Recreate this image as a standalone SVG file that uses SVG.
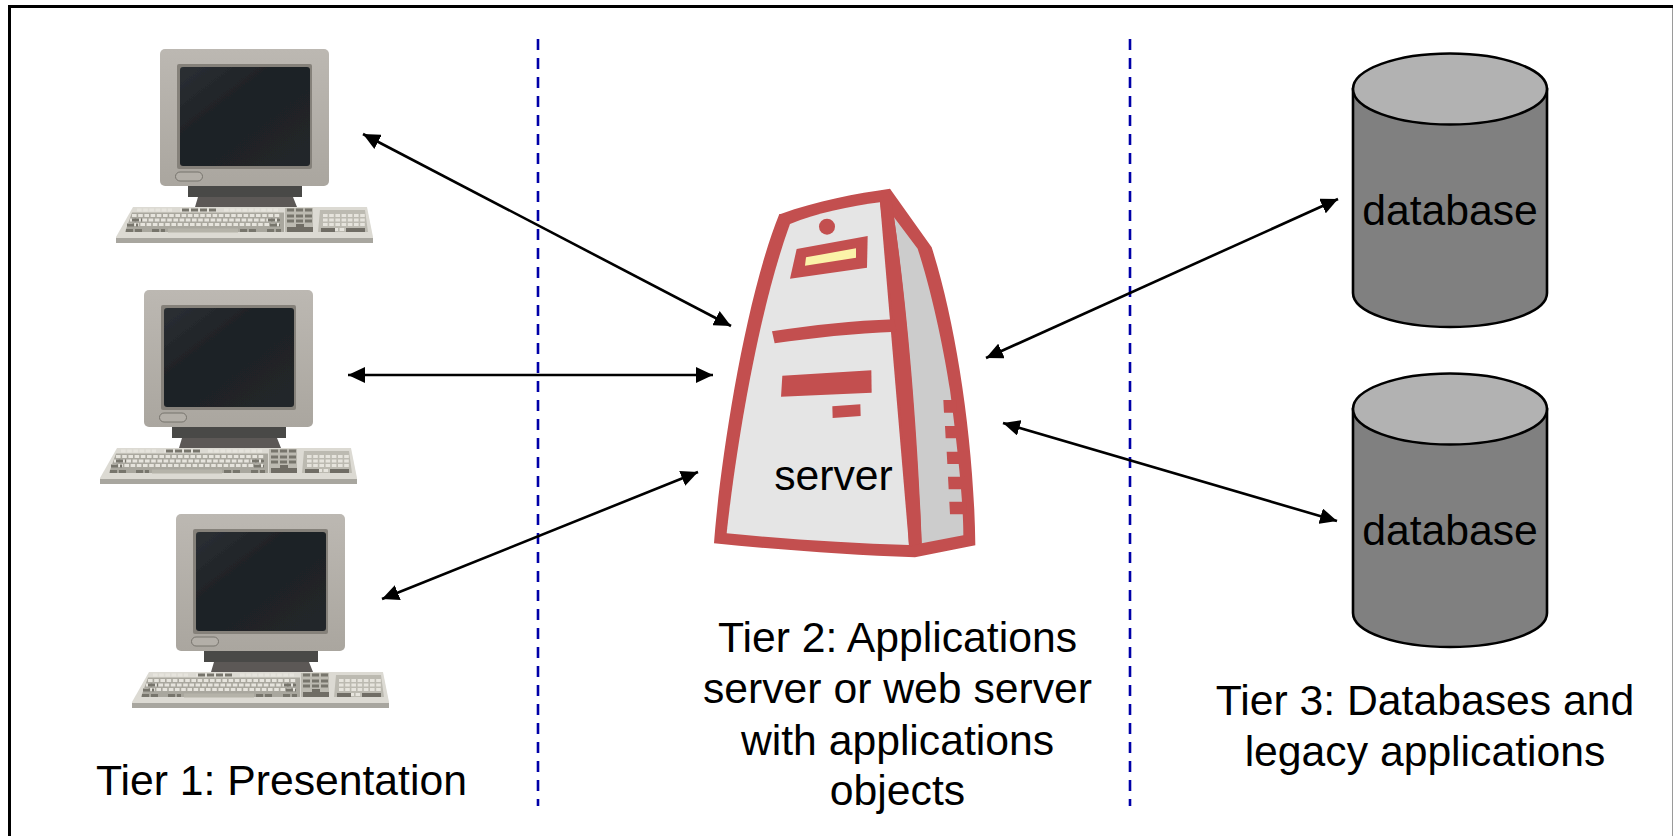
<svg xmlns="http://www.w3.org/2000/svg" width="1673" height="836" viewBox="0 0 1673 836">
<style>
text{font-family:"Liberation Sans",Arial,sans-serif;font-size:42.7px;fill:#000}
.mid{text-anchor:middle}
.tier{stroke:#0000a8;stroke-width:2.6;stroke-dasharray:11 8;fill:none}
.link{stroke:#000;stroke-width:2.6;fill:none;marker-start:url(#head);marker-end:url(#head)}
.red{fill:#c34f4f}
.cyl{fill:#808080;stroke:#000;stroke-width:2.6}
.top{fill:#b2b2b2;stroke:#000;stroke-width:2.6}
.k{fill:none;stroke:#e6e4dd;stroke-width:2.8;stroke-dasharray:4.6 1.6}
.d{fill:none;stroke:#77756c;stroke-width:3.2;stroke-dasharray:7 2}
</style>
<defs>
<marker id="head" markerUnits="userSpaceOnUse" markerWidth="18" markerHeight="16" refX="17" refY="8" orient="auto-start-reverse" viewBox="0 0 18 16"><path d="M0,0L17,8L0,16Z" fill="#000"/></marker>
<linearGradient id="case" x1="0" y1="0" x2="0" y2="1"><stop offset="0" stop-color="#bcb8b2"/><stop offset="1" stop-color="#aaa69f"/></linearGradient>
<linearGradient id="glass" x1="0" y1="0" x2="1" y2="1"><stop offset="0" stop-color="#2c3034"/><stop offset=".4" stop-color="#1d2125"/><stop offset="1" stop-color="#23272a"/></linearGradient>
<filter id="soft" x="-5%" y="-5%" width="110%" height="110%"><feGaussianBlur stdDeviation="0.6"/></filter>
<g id="computer" filter="url(#soft)">
<path d="M28,137H142V148H28Z" fill="#4a4947"/>
<path d="M38,148H133L137,158H35Z" fill="#5b5957"/>
<rect width="169" height="137" rx="5" fill="url(#case)"/>
<rect x="17" y="15" width="135" height="105" rx="2" fill="#85817a"/>
<rect x="20" y="18" width="130" height="99" rx="3" fill="url(#glass)"/>
<rect x="15.500" y="123" width="27" height="9" rx="4.500" fill="#b3afa8" stroke="#77746d" stroke-width="1"/>
<path d="M-27,158H207L213,188V194H-44V188Z" fill="#dcdad3"/>
<path d="M-44,189H213V194H-44Z" fill="#a8a69f"/>
<path d="M-28,163.500H124V183H-35Z" fill="#a9a79e"/>
<path d="M125,159H153V183H125ZM160,161H205L208,183H158Z" fill="#bcbab1"/>
<path class="k" d="M-23,161H12M20,161H57M64,161H118M-28,166.500H120M-30,171H120M-32,175.500H120"/>
<path class="d" d="M22,161H57M-28,171H-18M-33,176H-22M108,171H120M110,176H120"/>
<path class="d" d="M-34,181.500H-18M-8,181.500H5M80,181.500H96M107,181.500H121"/>
<path d="M8,179.500H78V183.500H8Z" fill="#b5b3a9"/>
<path class="k" d="M163,166.500H205M163,171H205M163,175.500H205M161,180.500H205"/>
<path class="d" d="M127,161H153M127,167H153M127,172H153"/>
<path d="M127,178H153V183H127Z" fill="#6f6d65"/>
<path d="M161,179H175V183H161ZM186,179H205V183H186Z" fill="#6f6d65"/>
<path d="M136,175H144V179H136Z" fill="#6f6d65"/>
</g>
<g id="drum">
<path class="cyl" d="M1353,89V293C1353,312 1396,327 1450,327S1547,312 1547,293V89Z"/>
<ellipse class="top" cx="1450" cy="89" rx="97" ry="35.500"/>
</g>
</defs>

<rect width="1673" height="836" fill="#fff"/>
<g id="frame">
<path d="M9.500,836V6.500H1673" fill="none" stroke="#000" stroke-width="3"/>
<path d="M1672.500,8V836" fill="none" stroke="#9a9a9a" stroke-width="1"/>
</g>

<g id="tier-dividers">
<path class="tier" d="M538,39V806"/>
<path class="tier" d="M1130,39V806"/>
</g>

<g id="connectors">
<path class="link" d="M363,134L731,326"/>
<path class="link" d="M348,375H713"/>
<path class="link" d="M382,599L698,472"/>
<path class="link" d="M986,358L1338,199"/>
<path class="link" d="M1003,423L1337,521"/>
</g>

<g id="client-1"><use href="#computer" transform="translate(160,49)"/></g>
<g id="client-2"><use href="#computer" transform="translate(144,290)"/></g>
<g id="client-3"><use href="#computer" transform="translate(176,514)"/></g>

<g id="server">
<g transform="translate(690,170) scale(.33333)">
<path class="red" d="M272,132C380,92 500,70 600,56L725,232C795,450 852,800 856,1126L675,1162C480,1155 270,1140 72,1120C88,900 160,400 268,132Z"/>
<path fill="#e5e5e5" d="M300,162C380,130 480,108 570,97L657,1125C480,1120 300,1108 110,1090C130,900 195,450 300,162Z"/>
<path fill="#ccc" d="M612,142L683,236C730,380 765,560 780,660C805,850 820,1000 820,1096L695,1120C685,900 660,480 612,142Z"/>
<path class="red" d="M570,97L600,56L612,142C662,480 688,900 695,1120L657,1130C646,900 622,500 570,97Z"/>
<path class="red" d="M246,484C370,465 490,452 612,448L620,485C490,490 370,503 254,520Z"/>
<circle class="red" cx="411" cy="170" r="24"/>
<path class="red" d="M320,237L533,198L531,293L300,326Z"/>
<path fill="#fbf3a8" d="M348,262L498,235V263L345,287Z"/>
<path class="red" d="M277,617L544,601L545,668L273,680Z"/>
<path class="red" d="M427,709L511,703L512,738L428,744Z"/>
<path class="red" d="M760,690H800V728H762ZM765,768H812V805H767ZM770,845H820V882H772ZM774,920H825V958H776ZM778,995H830V1033H780Z"/>
</g>
<text class="mid" x="833.500" y="490">server</text>
</g>

<g id="database-1"><use href="#drum"/><text class="mid" x="1450" y="225">database</text></g>
<g id="database-2"><use href="#drum" y="320"/><text class="mid" x="1450" y="545">database</text></g>

<g id="labels">
<text x="96" y="795">Tier 1: Presentation</text>
<text class="mid" x="897.500" y="652">Tier 2: Applications</text>
<text class="mid" x="897.500" y="703">server or web server</text>
<text class="mid" x="897.500" y="755">with applications</text>
<text class="mid" x="897.500" y="805">objects</text>
<text class="mid" x="1425" y="715">Tier 3: Databases and</text>
<text class="mid" x="1425" y="766">legacy applications</text>
</g>
</svg>
